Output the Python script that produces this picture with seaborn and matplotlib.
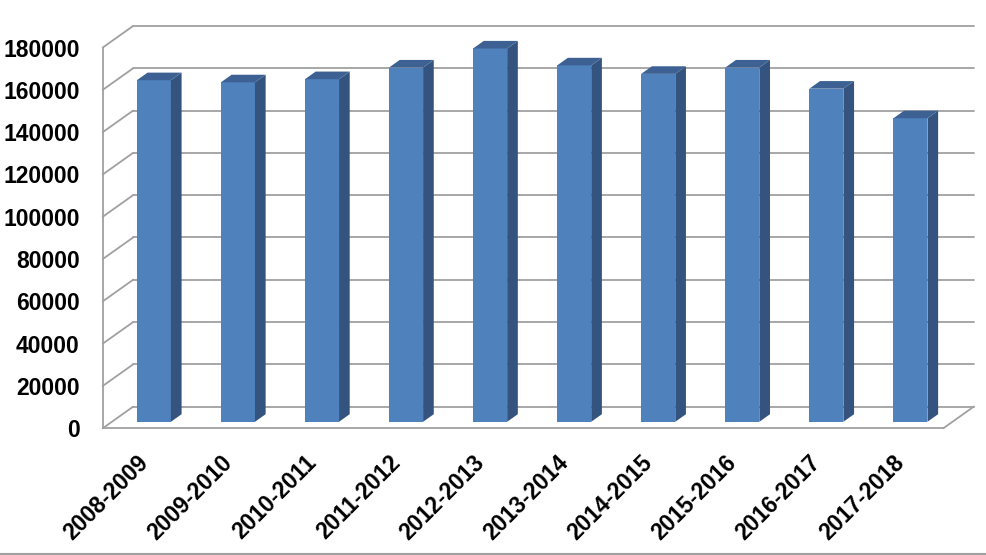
import numpy as np
import matplotlib
matplotlib.use("Agg")
import matplotlib.pyplot as plt
from matplotlib.patches import Polygon
from matplotlib.lines import Line2D
import seaborn as sns

periods = ["2008-2009", "2009-2010", "2010-2011", "2011-2012", "2012-2013",
           "2013-2014", "2014-2015", "2015-2016", "2016-2017", "2017-2018"]
students = [161500, 160500, 162000, 167500, 176500,
            168500, 164500, 167500, 157500, 143500]
yticks = list(range(0, 180001, 20000))

# fake 3d look: oblique depth offset (x in category units, y in data units)
DX = 0.363
DY = 10260
F0 = 0.30   # depth where the bar front face sits
DD = 0.35   # bar depth

front = "#4F81BD"
side = "#34547F"
top = "#3C6192"
grid = "#A0A0A0"

sns.set_style("white")
plt.rcParams["font.family"] = ["Liberation Sans", "DejaVu Sans"]
plt.rcParams["font.weight"] = "bold"

fig = plt.figure(figsize=(9.86, 5.55), dpi=100)
ax = fig.add_axes([102.7 / 986, 1 - 428.3 / 555, 10.363 * 84.06 / 986, 402.4 / 555])

sns.barplot(x=periods, y=students, color=front, saturation=1, width=0.405,
            linewidth=0, ax=ax, zorder=3)

# shift the front faces back and add the side and top faces
for p in ax.patches:
    p.set_x(p.get_x() + F0 * DX)
    p.set_y(F0 * DY)
    x0, x1 = p.get_x(), p.get_x() + p.get_width()
    y0, y1 = p.get_y(), p.get_y() + p.get_height()
    ddx, ddy = DD * DX, DD * DY
    ax.add_patch(Polygon([(x1, y0), (x1 + ddx, y0 + ddy), (x1 + ddx, y1 + ddy), (x1, y1)],
                         closed=True, facecolor=side, lw=0, zorder=3))
    ax.add_patch(Polygon([(x0, y1), (x1, y1), (x1 + ddx, y1 + ddy), (x0 + ddx, y1 + ddy)],
                         closed=True, facecolor=top, lw=0, zorder=3))

n = len(periods)
xl, xr = -0.5, n - 0.5

# back wall gridlines and left wall diagonals
for v in yticks:
    ax.plot([xl + DX, xr + DX], [v + DY, v + DY], color=grid, lw=1.3, zorder=1, clip_on=False)
    ax.plot([xl, xl + DX], [v, v + DY], color=grid, lw=1.3, zorder=1, clip_on=False)
# right floor edge
ax.plot([xr, xr + DX], [0, DY], color=grid, lw=1.3, zorder=1, clip_on=False)

ax.set_xlim(xl, xr + DX)
ax.set_ylim(0, 180000 + DY)

for s in ["top", "right"]:
    ax.spines[s].set_visible(False)
ax.spines["left"].set_bounds(0, 180000)
ax.spines["bottom"].set_bounds(xl, xr)
for s in ["left", "bottom"]:
    ax.spines[s].set_color(grid)
    ax.spines[s].set_linewidth(1.3)

ax.set_yticks(yticks)
ax.set_yticklabels([str(v) for v in yticks], fontsize=16.5, fontweight="bold", color="black")
ax.tick_params(axis="y", length=4.5, color=grid, width=1.3, pad=12)

ax.set_xticks(range(n))
ax.set_xticks(np.arange(n + 1) - 0.5, minor=True)
ax.set_xticklabels(periods, fontsize=16.5, fontweight="bold", color="black", rotation=45,
                   ha="right", va="center", rotation_mode="anchor")
ax.tick_params(axis="x", which="major", length=0, pad=22)
ax.tick_params(axis="x", which="minor", length=7, color=grid, width=1.3)
ax.set_xlabel("")
ax.set_ylabel("")

fig.add_artist(Line2D([0, 1], [1 - 553.5 / 555] * 2, transform=fig.transFigure,
                      color=grid, lw=1.5))

fig.savefig("out.png", dpi=100)
